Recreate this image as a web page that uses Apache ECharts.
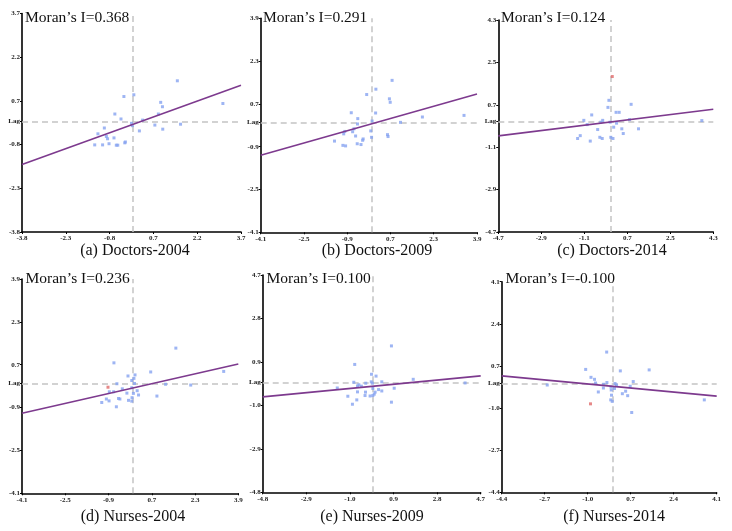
<!DOCTYPE html>
<html><head><meta charset="utf-8">
<script src="https://cdn.jsdelivr.net/npm/echarts@6/dist/echarts.min.js"></script>
<style>html,body{margin:0;padding:0;background:#fff}#c{width:732px;height:531px}</style>
</head><body><div id="c"></div>
<script>
// ---------- data ----------
const captions = ["(a) Doctors-2004", "(b) Doctors-2009", "(c) Doctors-2014",
                  "(d) Nurses-2004", "(e) Nurses-2009", "(f) Nurses-2014"];
const moranLabels = ["Moran\u2019s I=0.368", "Moran\u2019s I=0.291", "Moran\u2019s I=0.124",
                     "Moran\u2019s I=0.236", "Moran\u2019s I=0.100", "Moran\u2019s I=-0.100"];

const ticksA = [-3.8, -2.3, -0.8, 0.7, 2.2, 3.7];
const ticksB = [-4.1, -2.5, -0.9, 0.7, 2.3, 3.9];
const ticksC = [-4.7, -2.9, -1.1, 0.7, 2.5, 4.3];
const ticksD = [-4.1, -2.5, -0.9, 0.7, 2.3, 3.9];
const ticksE = [-4.8, -2.9, -1.0, 0.9, 2.8, 4.7];
const ticksF = [-4.4, -2.7, -1.0, 0.7, 2.4, 4.1];

const pointsA = [[1.52,1.39],[3.08,0.61],[-0.31,0.85],[0.03,0.91],[0.95,0.65],[1.01,0.50],[0.87,0.25],
  [-0.62,0.25],[-0.41,0.08],[0.33,0.04],[-0.05,-0.07],[-0.02,-0.15],[0.75,-0.13],[1.63,-0.10],
  [0.22,-0.33],[1.02,-0.27],[-0.98,-0.23],[-1.20,-0.43],[-0.91,-0.52],[-0.87,-0.60],[-0.65,-0.57],
  [-1.31,-0.81],[-1.04,-0.81],[-0.82,-0.77],[-0.57,-0.82],[-0.52,-0.82],[-0.28,-0.74],[-0.26,-0.71]];
const pointsB = [[0.76,1.58],[0.16,1.25],[-0.18,1.05],[0.66,0.89],[0.69,0.76],[3.42,0.27],[1.88,0.21],
  [-0.75,0.37],[0.15,0.36],[-0.51,0.15],[0.02,0.06],[1.07,0.01],[-0.52,-0.05],[-0.65,-0.23],
  [-0.03,-0.31],[-0.70,-0.34],[-0.99,-0.33],[-1.03,-0.42],[-0.59,-0.50],[0.00,-0.55],[0.59,-0.45],
  [0.61,-0.52],[-0.31,-0.61],[-0.33,-0.66],[-1.37,-0.69],[-0.53,-0.79],[-0.39,-0.82],[-1.06,-0.85],[-0.96,-0.87]];
const pointsC = [[-0.07,0.89],[-0.11,0.59],[0.86,0.72],[0.23,0.38],[0.36,0.38],[-0.79,0.27],[-1.12,0.04],
  [-0.33,0.04],[-0.41,-0.04],[3.82,0.03],[0.79,0.07],[-0.98,-0.14],[-0.02,-0.04],[0.25,-0.08],
  [0.13,-0.25],[0.47,-0.32],[1.17,-0.32],[-0.54,-0.35],[0.53,-0.52],[-1.27,-0.61],[-1.38,-0.73],
  [-0.45,-0.68],[-0.35,-0.73],[0.01,-0.68],[0.10,-0.73],[-0.85,-0.84]];
const pointsD = [[1.59,1.32],[-0.70,0.77],[3.36,0.45],[0.66,0.43],[-0.18,0.28],[0.08,0.32],[0.04,0.19],
  [-0.04,0.11],[0.06,0.00],[-0.59,-0.01],[1.21,-0.03],[2.14,-0.06],[-0.39,-0.20],[-0.04,-0.16],
  [-0.87,-0.31],[-0.71,-0.31],[-0.22,-0.36],[0.16,-0.27],[0.02,-0.37],[0.21,-0.43],[-0.53,-0.56],
  [-0.48,-0.58],[-0.03,-0.53],[0.89,-0.47],[-0.98,-0.58],[-0.88,-0.65],[-0.16,-0.63],[-0.04,-0.66],
  [-1.15,-0.71],[-0.61,-0.87]];
const pointsE = [[0.81,1.60],[-0.79,0.79],[-0.06,0.36],[0.14,0.28],[1.76,0.14],[-0.83,0.01],[-0.07,0.03],
  [-0.02,-0.03],[0.39,0.03],[-0.31,-0.03],[4.02,-0.02],[-0.61,-0.10],[-0.50,-0.16],[-0.67,-0.15],
  [-1.55,-0.24],[0.93,-0.25],[0.00,-0.26],[0.25,-0.31],[0.39,-0.37],[-0.67,-0.41],[-0.32,-0.42],
  [0.10,-0.42],[0.06,-0.51],[0.00,-0.57],[-0.12,-0.59],[-0.34,-0.57],[-1.09,-0.60],[-0.70,-0.76],
  [0.81,-0.86],[-0.89,-0.95]];
const pointsF = [[-0.25,1.26],[-1.08,0.56],[0.29,0.50],[1.43,0.54],[-0.87,0.24],[-0.73,0.16],[0.80,0.07],
  [-2.60,-0.07],[-0.69,0.01],[-0.24,0.03],[-0.37,-0.04],[0.08,-0.01],[0.14,-0.07],[0.68,-0.12],
  [-0.08,-0.15],[-0.38,-0.19],[0.06,-0.21],[-0.07,-0.27],[0.50,-0.32],[-0.58,-0.35],[0.37,-0.42],
  [0.58,-0.50],[-0.06,-0.48],[-0.09,-0.67],[-0.03,-0.73],[3.61,-0.67],[0.74,-1.18]];

const highlightA = [];
const highlightB = [];
const highlightC = [[0.07, 1.90]];
const highlightD = [[-0.92, -0.14]];
const highlightE = [];
const highlightF = [[-0.89, -0.83]];

const fitA = [[-3.8, -1.48], [3.7, 1.24]];
const fitB = [[-4.1, -1.22], [3.9, 1.07]];
const fitC = [[-4.7, -0.62], [4.3, 0.51]];
const fitD = [[-4.1, -1.11], [3.9, 0.73]];
const fitE = [[-4.8, -0.63], [4.7, 0.29]];
const fitF = [[-4.4, 0.30], [4.1, -0.52]];

// ---------- layout ----------
const panels = [
  {ticks: ticksA, pts: pointsA, hi: highlightA, fit: fitA, g: {left: 22, top: 13.5, width: 219, height: 218.5}, cap: [135, 243], mor: [25, 10]},
  {ticks: ticksB, pts: pointsB, hi: highlightB, fit: fitB, g: {left: 260.7, top: 18.3, width: 216.3, height: 214}, cap: [377, 243], mor: [263, 10]},
  {ticks: ticksC, pts: pointsC, hi: highlightC, fit: fitC, g: {left: 498.3, top: 20, width: 215, height: 212}, cap: [612, 243], mor: [501, 10]},
  {ticks: ticksD, pts: pointsD, hi: highlightD, fit: fitD, g: {left: 22, top: 279, width: 216.3, height: 214.3}, cap: [133, 509], mor: [25.5, 271]},
  {ticks: ticksE, pts: pointsE, hi: highlightE, fit: fitE, g: {left: 262.7, top: 275, width: 218, height: 217.3}, cap: [372, 509], mor: [266.5, 271]},
  {ticks: ticksF, pts: pointsF, hi: highlightF, fit: fitF, g: {left: 501.7, top: 281.7, width: 215, height: 210.6}, cap: [614, 509], mor: [505.5, 271]}
];

const tickFont = {fontFamily: 'Liberation Serif', fontSize: 7, fontWeight: 'bold', color: '#222'};
const grid = [], xAxis = [], yAxis = [], series = [], title = [];

panels.forEach((p, i) => {
  grid.push(Object.assign({containLabel: false}, p.g));
  const lo = p.ticks[0], hi = p.ticks[p.ticks.length - 1];
  xAxis.push({
    type: 'value', gridIndex: i, min: lo, max: hi,
    axisLine: {show: true, onZero: false, lineStyle: {color: '#000', width: 1.6}},
    axisTick: {show: true, length: 2, customValues: p.ticks, lineStyle: {color: '#000'}},
    axisLabel: Object.assign({customValues: p.ticks, margin: 3, formatter: v => v.toFixed(1)}, tickFont),
    splitLine: {show: false}
  });
  const yVals = p.ticks.slice(); yVals.push(0);
  yAxis.push({
    type: 'value', gridIndex: i, min: lo, max: hi,
    axisLine: {show: true, onZero: false, lineStyle: {color: '#000', width: 1.6}},
    axisTick: {show: true, length: 2, customValues: yVals, lineStyle: {color: '#000'}},
    axisLabel: Object.assign({customValues: yVals, margin: 2, formatter: v => (Math.abs(v) < 1e-9 ? 'Lag' : v.toFixed(1))}, tickFont),
    splitLine: {show: false}
  });
  series.push({
    type: 'scatter', xAxisIndex: i, yAxisIndex: i, data: p.pts, symbol: 'rect', symbolSize: 3,
    itemStyle: {color: '#86a3f0'}, silent: true, z: 3,
    markLine: {
      silent: true, symbol: ['none', 'none'], label: {show: false},
      lineStyle: {color: '#c4c4c4', type: [6, 4], width: 1.5},
      data: [{xAxis: 0}, {yAxis: 0}], z: 1
    }
  });
  series.push({
    type: 'scatter', xAxisIndex: i, yAxisIndex: i, data: p.hi, symbol: 'rect', symbolSize: 3,
    itemStyle: {color: '#e06a6a'}, silent: true, z: 3
  });
  series.push({
    type: 'line', xAxisIndex: i, yAxisIndex: i, data: p.fit, showSymbol: false, symbol: 'none',
    lineStyle: {color: '#7d3a8e', width: 1.6}, silent: true, z: 4, animation: false
  });
  title.push({
    text: moranLabels[i], left: p.mor[0], top: p.mor[1],
    textStyle: {fontFamily: 'Liberation Serif', fontSize: 15.5, fontWeight: 'normal', color: '#111'}, padding: 0
  });
  title.push({
    text: captions[i], left: p.cap[0], top: p.cap[1], textAlign: 'center',
    textStyle: {fontFamily: 'Liberation Serif', fontSize: 16, fontWeight: 'normal', color: '#111'}, padding: 0
  });
});

const chart = echarts.init(document.getElementById('c'), null, {renderer: 'canvas'});
chart.setOption({animation: false, backgroundColor: '#fff', title, grid, xAxis, yAxis, series});
</script>
</body></html>
